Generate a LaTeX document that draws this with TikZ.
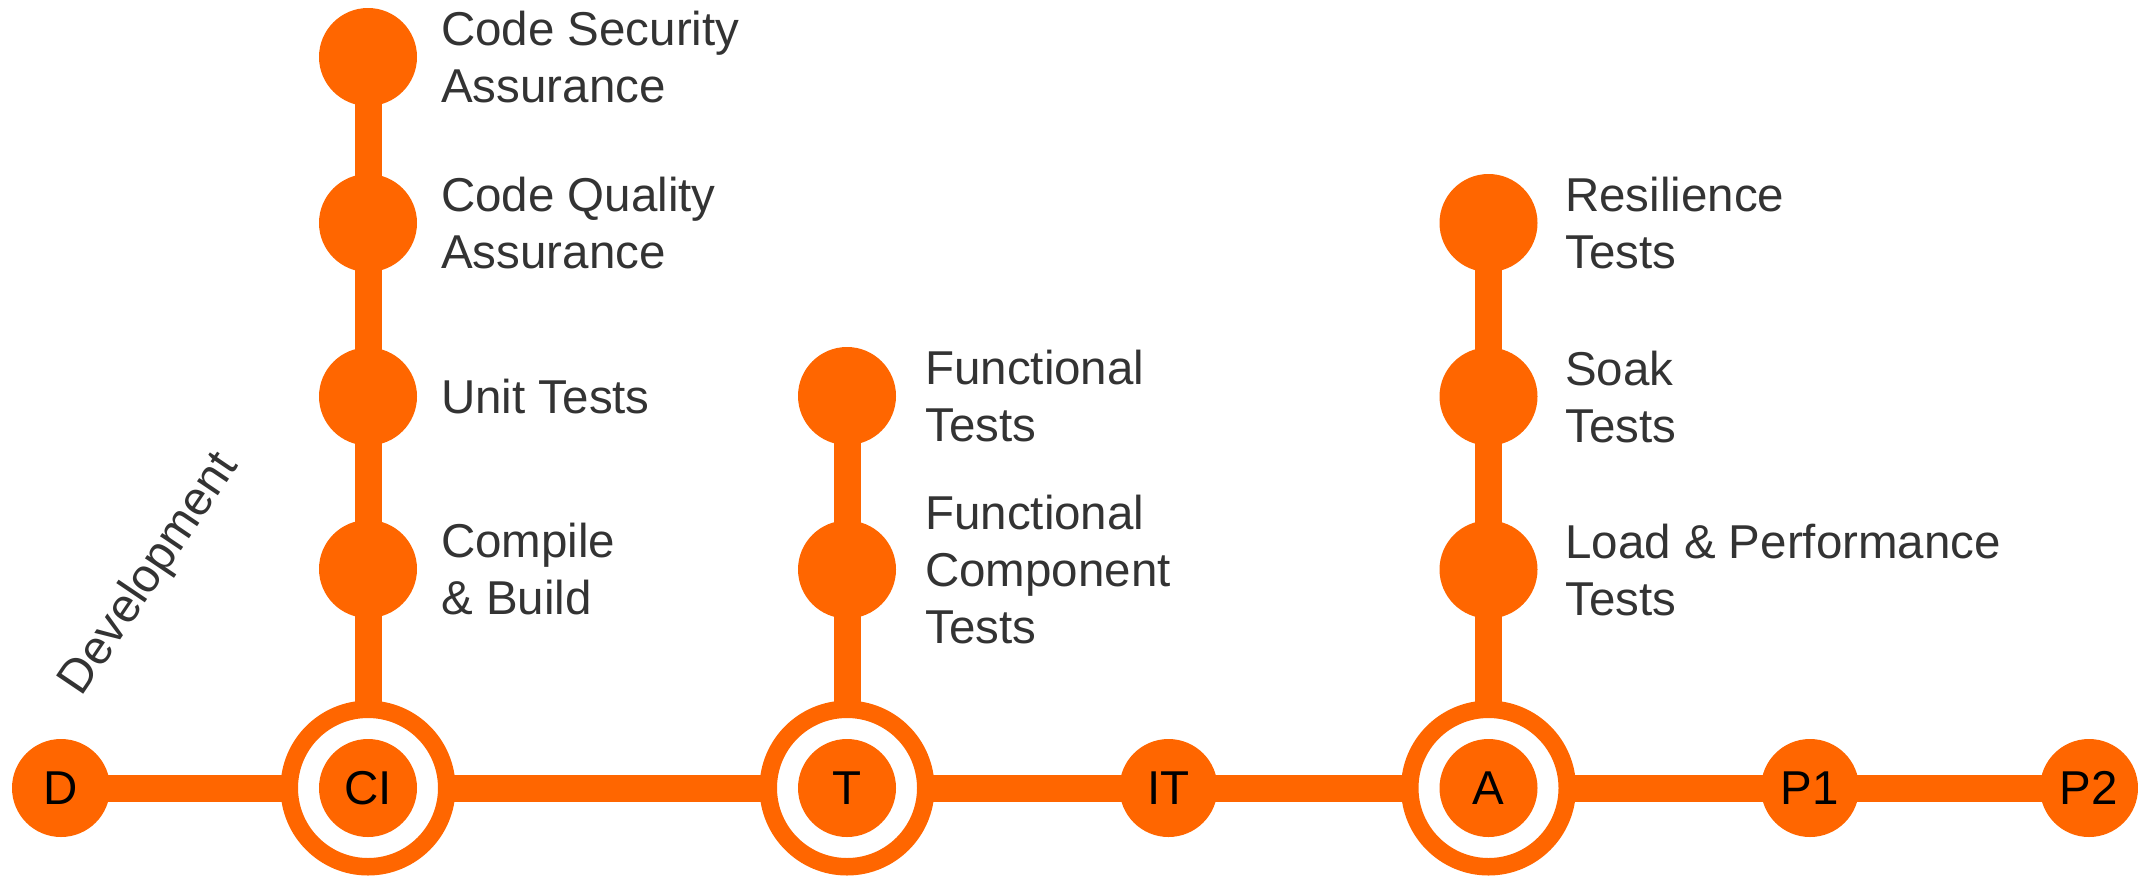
\documentclass[tikz,border=0pt]{standalone}
\usepackage{fontspec}
\setmainfont{Liberation Sans}
\usetikzlibrary{backgrounds}
\definecolor{pipeorange}{HTML}{FF6600}
\definecolor{labelgray}{HTML}{333333}
\newcommand{\mystrut}{\rule[-0.192em]{0pt}{1.1em}}
\newcommand{\pipefont}{\fontsize{47.5}{57}\selectfont}
\begin{document}
\begin{tikzpicture}[x=1pt,y=-1pt,
  stage/.style={circle,fill=pipeorange,minimum size=98pt,inner sep=0pt,font=\pipefont,text=black},
  ringnode/.style={circle,draw=pipeorange,fill=white,line width=17.5pt,minimum size=157.5pt,inner sep=0pt},
  dotnode/.style={circle,fill=pipeorange,minimum size=98pt,inner sep=0pt},
  lbl/.style={anchor=west,align=left,inner sep=0pt,text=labelgray,font=\pipefont},
  track/.style={draw=pipeorange,line width=27pt}]
\useasboundingbox (0,0) rectangle (2138,876);

% main stages
\node[stage] (D) at (61,788) {D};
\node[ringnode] (CIr) at (368,788) {};
\node[stage] (CI) at (368,788) {CI};
\node[ringnode] (Tr) at (847,788) {};
\node[stage] (T) at (847,788) {T};
\node[stage] (IT) at (1168.5,788) {IT};
\node[ringnode] (Ar) at (1488.5,788) {};
\node[stage] (A) at (1488.5,788) {A};
\node[stage] (P1) at (1810,788) {P1};
\node[stage] (P2) at (2089,788) {P2};

% CI column
\node[dotnode] (cs) at (368,57) {};
\node[dotnode] (cq) at (368,223) {};
\node[dotnode] (ut) at (368,396.5) {};
\node[dotnode] (cb) at (368,569) {};
% T column
\node[dotnode] (ft) at (847,396) {};
\node[dotnode] (fc) at (847,569.5) {};
% A column
\node[dotnode] (rt) at (1488.5,223) {};
\node[dotnode] (st) at (1488.5,396.5) {};
\node[dotnode] (lp) at (1488.5,569.5) {};

% labels
\node[lbl] (lcs) at (441,57) {\mystrut Code Security\\\mystrut Assurance};
\node[lbl] (lcq) at (441,223) {\mystrut Code Quality\\\mystrut Assurance};
\node[lbl] (lut) at (441,396.5) {\mystrut Unit Tests};
\node[lbl] (lcb) at (441,569) {\mystrut Compile\\\mystrut \& Build};
\node[lbl] (lft) at (925,396) {\mystrut Functional\\\mystrut Tests};
\node[lbl] (lfc) at (925,569.5) {\mystrut Functional\\\mystrut Component\\\mystrut Tests};
\node[lbl] (lrt) at (1565,223) {\mystrut Resilience\\\mystrut Tests};
\node[lbl] (lst) at (1565,396.5) {\mystrut Soak\\\mystrut Tests};
\node[lbl] (llp) at (1565,569.5) {\mystrut Load \& Performance\\\mystrut Tests};

\node[rotate=56,inner sep=0pt,text=labelgray,font=\pipefont] (dev) at (150,575) {Development};

\begin{scope}[on background layer]
\draw[track] (D.center) -- (CIr.center) -- (Tr.center) -- (IT.center) -- (Ar.center) -- (P1.center) -- (P2.center);
\draw[track] (cs.center) -- (CIr.center);
\draw[track] (ft.center) -- (Tr.center);
\draw[track] (rt.center) -- (Ar.center);
\end{scope}
\end{tikzpicture}
\end{document}
